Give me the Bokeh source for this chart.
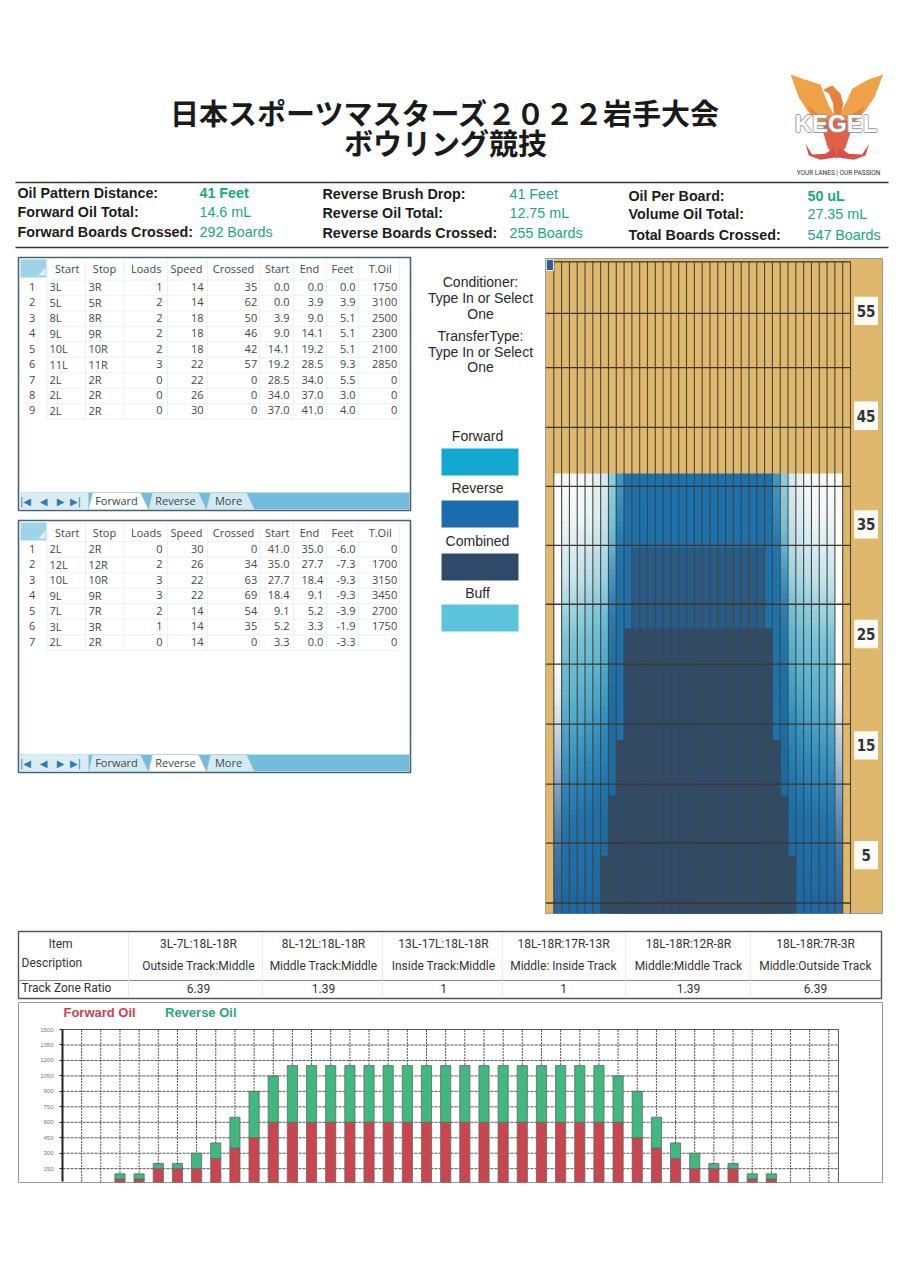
import numpy as np
from bokeh.plotting import figure
from bokeh.layouts import column, row
from bokeh.models import Range1d, FixedTicker, ColumnDataSource
from bokeh.core.properties import value
from bokeh.embed import file_html
from bokeh.resources import INLINE

# ---------- data ----------
title_lines = ["日本スポーツマスターズ２０２２岩手大会", "ボウリング競技"]

info_labels = [["Oil Pattern Distance:", "Forward Oil Total:", "Forward Boards Crossed:"],
               ["Reverse Brush Drop:", "Reverse Oil Total:", "Reverse Boards Crossed:"],
               ["Oil Per Board:", "Volume Oil Total:", "Total Boards Crossed:"]]
info_values = [["41 Feet", "14.6 mL", "292 Boards"],
               ["41 Feet", "12.75 mL", "255 Boards"],
               ["50 uL", "27.35 mL", "547 Boards"]]

table_header = ["Start", "Stop", "Loads", "Speed", "Crossed", "Start", "End", "Feet", "T.Oil"]
fw_start = ["3L", "5L", "8L", "9L", "10L", "11L", "2L", "2L", "2L"]
fw_stop = ["3R", "5R", "8R", "9R", "10R", "11R", "2R", "2R", "2R"]
fw_loads = ["1", "2", "2", "2", "2", "3", "0", "0", "0"]
fw_speed = ["14", "14", "18", "18", "18", "22", "22", "26", "30"]
fw_crossed = ["35", "62", "50", "46", "42", "57", "0", "0", "0"]
fw_from = ["0.0", "0.0", "3.9", "9.0", "14.1", "19.2", "28.5", "34.0", "37.0"]
fw_end = ["0.0", "3.9", "9.0", "14.1", "19.2", "28.5", "34.0", "37.0", "41.0"]
fw_feet = ["0.0", "3.9", "5.1", "5.1", "5.1", "9.3", "5.5", "3.0", "4.0"]
fw_oil = ["1750", "3100", "2500", "2300", "2100", "2850", "0", "0", "0"]

rv_start = ["2L", "12L", "10L", "9L", "7L", "3L", "2L"]
rv_stop = ["2R", "12R", "10R", "9R", "7R", "3R", "2R"]
rv_loads = ["0", "2", "3", "3", "2", "1", "0"]
rv_speed = ["30", "26", "22", "22", "14", "14", "14"]
rv_crossed = ["0", "34", "63", "69", "54", "35", "0"]
rv_from = ["41.0", "35.0", "27.7", "18.4", "9.1", "5.2", "3.3"]
rv_end = ["35.0", "27.7", "18.4", "9.1", "5.2", "3.3", "0.0"]
rv_feet = ["-6.0", "-7.3", "-9.3", "-9.3", "-3.9", "-1.9", "-3.3"]
rv_oil = ["0", "1700", "3150", "3450", "2700", "1750", "0"]

setup_text = ["Conditioner:", "Type In or Select", "One", "TransferType:", "Type In or Select", "One"]
legend_names = ["Forward", "Reverse", "Combined", "Buff"]
legend_colors = ["#12a8cf", "#1b6cab", "#2f4a6b", "#5cc3dc"]

ratio_items = ["3L-7L:18L-18R", "8L-12L:18L-18R", "13L-17L:18L-18R", "18L-18R:17R-13R", "18L-18R:12R-8R", "18L-18R:7R-3R"]
ratio_desc = ["Outside Track:Middle", "Middle Track:Middle", "Inside Track:Middle", "Middle: Inside Track", "Middle:Middle Track", "Middle:Outside Track"]
ratio_vals = ["6.39", "1.39", "1", "1", "1.39", "6.39"]

boards = list(range(3, 38))
forward_oil = [50, 50, 150, 150, 150, 250, 350, 450] + [600] * 19 + [450, 350, 250, 150, 150, 150, 50, 50]
reverse_oil = [50, 50, 50, 50, 150, 150, 300, 450, 450] + [550] * 17 + [450, 450, 300, 150, 150, 50, 50, 50, 50]
chart_ticks = [150, 300, 450, 600, 750, 900, 1050, 1200, 1350, 1500]
chart_grid_x = list(range(1, 41))

# lane: sampled height of each colour row in feet, and colour of outer columns 1..9 there
band_ft = [39.0, 36.2, 33.5, 30.7, 28.0, 25.2, 22.5, 19.7, 17.0, 14.3, 11.5, 8.8, 6.0, 3.3, 0.9]
band_colors = [
    ["#ffffff", "#f8fbfc", "#f5f9fb", "#f5f9fb", "#f0f7f9", "#e2f0f4", "#d5eaf0", "#8ccbdc", "#3d97c6"],
    ["#ffffff", "#eef6f8", "#eef6f8", "#eef6f8", "#e6f2f6", "#daecf2", "#c8e4ec", "#7cc2d8", "#2d87be"],
    ["#ffffff", "#dbeef4", "#dbeef4", "#d5ebf2", "#cfe8f0", "#c2e2ec", "#b2dbe8", "#5fb2d0", "#1f78b3"],
    ["#ffffff", "#c6e5ee", "#c6e5ee", "#bfe1ec", "#b5ddea", "#a8d7e6", "#9ad1e2", "#3f96c4", "#1b72ae"],
    ["#ffffff", "#a2d6e4", "#a2d6e4", "#98d2e2", "#8ecde0", "#84c8dd", "#74c0d9", "#2a80b8", "#1b72ae"],
    ["#ffffff", "#7cc5da", "#7cc5da", "#78c3da", "#72c0d8", "#6bbcd6", "#5cb3d2", "#2076b0", "#1b72ae"],
    ["#fafcfd", "#6abcd4", "#6abcd4", "#66bad4", "#62b8d4", "#5cb3d2", "#4aa8cc", "#1c70ac", "#1b72ae"],
    ["#e8eef4", "#5fb5d2", "#5cb3d2", "#58b0d0", "#52accf", "#4aa6cb", "#3a9cc6", "#1b6fab", "#1b72ae"],
    ["#c8d8e6", "#4ca6cd", "#4aa5cd", "#47a2cb", "#3e9cc8", "#3595c4", "#2a8cc0", "#1c6ca6", "#1b72ae"],
    ["#a8c0d8", "#3b97c6", "#3894c4", "#3490c2", "#2e8bbf", "#2986bc", "#2180b8", "#1e6aa3", "#1b72ae"],
    ["#7fa4c6", "#2c86bc", "#2a84bb", "#2681b9", "#247eb8", "#207ab5", "#1c76b2", "#1c6aa4", "#1b72ae"],
    ["#5b8cb8", "#2278b2", "#2076b1", "#1e74b0", "#1d72ae", "#1c70ac", "#1b6eaa", "#1b6ca8", "#1b72ae"],
    ["#4078ac", "#1e70ac", "#1e70ac", "#1d70ac", "#1d6fab", "#1c6eaa", "#1b6ca8", "#1b6ca8", "#1b72ae"],
    ["#2f6ca4", "#1e6dab", "#1e6dab", "#1e6dab", "#1d6caa", "#1c6ba8", "#1b6ca8", "#1b6ca8", "#1b72ae"],
    ["#2a66a0", "#1d68a6", "#1d68a6", "#1d68a6", "#1d68a6", "#1c68a6", "#1b6ca8", "#1b6ca8", "#1b72ae"],
]
oil_top_ft = 40.3
inner_color = "#1b72ae"
combined_cols = [11, 7, 8, 9, 10]
combined_tops = [33.5, 5.3, 10.8, 15.9, 26.1]
combined_fill = ["#275b88", "#2f4b6a", "#2f4b6a", "#2f4b6a", "#2f4b6a"]
lane_rule_ft = [0.96, 6.45, 11.85, 17.35, 22.84, 28.33, 33.73, 39.13, 44.53, 50.0, 54.97, 59.7]
lane_labels = ["5", "15", "25", "35", "45", "55"]
lane_label_ft = [5.35, 15.4, 25.6, 35.65, 45.6, 55.2]

# ---------- helpers ----------
def canvas(w, h, x0, x1, y0, y1):
    p = figure(width=w, height=h, x_range=Range1d(x0, x1), y_range=Range1d(y1, y0),
               output_backend="svg", toolbar_location=None, min_border=0, outline_line_color=None,
               frame_align=False)
    p.axis.visible = False
    p.grid.visible = False
    return p

def txt(p, x, y, s, size, color="#222222", font="Liberation Sans", style="normal", align="left"):
    p.text([x], [y - 1], text=[s], text_font=value(font), text_font_size=f"{size}px", text_color=color,
           text_font_style=style, text_align=align, text_baseline="middle")

def box(p, l, t, r, b, fill=None, line=None, lw=1):
    p.quad(left=[l], right=[r], top=[t], bottom=[b], fill_color=fill, line_color=line, line_width=lw)

def hline(p, x0, x1, y, color, lw=1):
    p.line([x0, x1], [y, y], line_color=color, line_width=lw)

def vline(p, x, y0, y1, color, lw=1):
    p.line([x, x], [y0, y1], line_color=color, line_width=lw)

# ---------- header ----------
head = canvas(892, 255, 0, 892, 0, 255)
txt(head, 445, 112.5, title_lines[0], 29, "#1a1a1a", "Noto Sans CJK JP", "bold", "center")
txt(head, 445, 142, title_lines[1], 29, "#1a1a1a", "Noto Sans CJK JP", "bold", "center")
hline(head, 15, 888, 182, "#333333", 1.5)
hline(head, 15, 888, 247, "#333333", 1.5)
info_x = [(17, 199), (322, 509), (628, 807)]
info_y = [[193, 212, 232], [194, 213, 233], [196, 214, 235]]
for c in range(3):
    for r in range(3):
        txt(head, info_x[c][0], info_y[c][r], info_labels[c][r], 14.3, "#1c1c1c", style="bold")
        bold = (r == 0 and c != 1)
        txt(head, info_x[c][1], info_y[c][r], info_values[c][r], 14.3, "#14a888", style="bold" if bold else "normal")

# logo (page coordinates)
def lz(pts):
    return [770 + a / 3 for a, b in pts], [60 + b / 3 for a, b in pts]
for pts, col in [
    ([(60, 42), (105, 58), (150, 72), (165, 112), (178, 140), (195, 170), (195, 225), (150, 195), (110, 150), (85, 110)], "#f0a248"),
    ([(338, 42), (292, 58), (245, 85), (232, 115), (220, 140), (200, 170), (200, 225), (245, 195), (285, 150), (312, 110)], "#f0a248"),
    ([(110, 135), (150, 165), (195, 165), (240, 165), (285, 135), (270, 165), (240, 195), (200, 225), (155, 195), (125, 165)], "#ea8440"),
    ([(158, 88), (185, 75), (210, 100), (218, 130), (210, 170), (190, 170), (188, 130), (176, 100)], "#e8803e"),
    ([(165, 180), (232, 180), (240, 215), (225, 262), (198, 295), (172, 262), (158, 215)], "#e0604a"),
    ([(105, 250), (125, 282), (165, 280), (190, 262), (198, 290), (150, 298), (115, 285)], "#d85048"),
    ([(296, 250), (275, 282), (235, 280), (208, 262), (198, 290), (250, 298), (285, 285)], "#d85048"),
]:
    xs, ys = lz(pts)
    head.patch(xs, ys, fill_color=col, line_color=None)
for dx, dy in [(-0.8, 0), (0.8, 0), (0, -0.8), (0, 0.8)]:
    txt(head, 835.5 + dx, 124 + dy, "KEGEL", 24, "#9a9a9a", style="bold", align="center")
txt(head, 835.5, 124, "KEGEL", 24, "#ffffff", style="bold", align="center")
txt(head, 838, 173, "YOUR LANES | OUR PASSION", 6.5, "#333333", "Roboto", align="center")

# ---------- middle (tables, setup text, legend) ----------
mid = canvas(544, 663, 0, 544, 255, 918)
col_edges = [46.7, 85, 123, 167, 207, 259, 293, 326, 358, 399]
head_x = [66.7, 104, 145.7, 186, 233, 276.7, 309, 342, 379.7]
body_x = [49, 88, 162, 203, 256.7, 289, 322.7, 355, 396.7]

def table(p, top, bottom, first_row, step, hdr_y, cols, active):
    box(p, 18, top, 410, bottom, "#ffffff", "#4a6470", 1.6)
    box(p, 20, top + 2, 46, top + 20, "#9fd3e8", None)
    p.patch([38, 45, 45], [top + 18, top + 18, top + 10], fill_color="#e4f2f8", line_color=None)
    n = len(cols[0])
    for i in range(n + 1):
        hline(p, 46, 399, first_row + (i - 0.5) * step, "#e9eff1", 0.8)
    for e in col_edges:
        vline(p, e, top + 2, first_row + (n - 0.5) * step, "#e9eff1", 0.8)
    for j, h in enumerate(table_header):
        txt(p, head_x[j], hdr_y, h, 11, "#3d4a4a", "Open Sans", align="center")
    for i in range(n):
        ry = first_row + i * step
        txt(p, 31.7, ry, str(i + 1), 11, "#3d4a4a", "Open Sans", align="center")
        for j, c in enumerate(cols):
            txt(p, body_x[j], ry, c[i], 11, "#3d4a4a", "Open Sans", align="left" if j < 2 else "right")
    # tab strip
    ty0, ty1 = bottom - 18, bottom - 1
    box(p, 19, ty0, 409, ty1, "#74bcdb", None)
    box(p, 19, ty0, 88, ty1, "#dcecf4", None)
    for x, s in [(25, "|◀"), (43, "◀"), (60, "▶"), (75, "▶|")]:
        txt(p, x, (ty0 + ty1) / 2 + 1, s, 10, "#2a7fb0", "DejaVu Sans", align="center")
    tabs = [("Forward", 88, 148), ("Reverse", 148, 206), ("More", 206, 254)]
    for name, a, b in tabs:
        fill = "#ffffff" if name == active else "#d4e9f1"
        p.patch([a, a + 4, b - 8, b], [ty1, ty0, ty0, ty1], fill_color=fill, line_color="#9cc8dc", line_width=0.6)
        txt(p, (a + b) / 2 - 2, (ty0 + ty1) / 2 + 0.5, name, 11, "#3d4a4a", "Open Sans", align="center")

table(mid, 257, 510, 287.3, 15.45, 269.3,
      [fw_start, fw_stop, fw_loads, fw_speed, fw_crossed, fw_from, fw_end, fw_feet, fw_oil], "Forward")
table(mid, 520, 772, 549, 15.5, 533,
      [rv_start, rv_stop, rv_loads, rv_speed, rv_crossed, rv_from, rv_end, rv_feet, rv_oil], "Reverse")

for s, y in zip(setup_text, [282, 298, 314, 336, 352, 367]):
    txt(mid, 480, y, s, 14, "#2a2a2a", align="center")
for name, colr, ly, ry0, ry1 in zip(legend_names, legend_colors, [436, 488, 541, 593], [448, 500, 553, 604], [475, 527, 580, 631]):
    txt(mid, 477, ly, name, 14, "#2a2a2a", align="center")
    box(mid, 441, ry0, 518, ry1, colr, None)

# ---------- lane ----------
lane = figure(width=348, height=663, x_range=Range1d(-1.064, 42.1), y_range=Range1d(0, 60),
              output_backend="svg", toolbar_location=None, min_border_left=1, min_border_right=10,
              min_border_top=3, min_border_bottom=5, background_fill_color="#dfb86e",
              outline_line_color="#9a9a9a", frame_align=False)
lane.axis.visible = False
lane.grid.visible = False

def hex2rgb(h):
    return np.array([int(h[i:i + 2], 16) for i in (1, 3, 5)], float)

# rows of the colour table blended into thin strips, as the scanned gradient is continuous
strip_edges = np.arange(oil_top_ft, -0.01, -0.55)
strip_edges[-1] = 0.0
asc_ft = np.array(band_ft[::-1])
L, R, T, B, C = [], [], [], [], []
for top, bot in zip(strip_edges[:-1], strip_edges[1:]):
    mid_ft = (top + bot) / 2
    colours = []
    for c in range(9):
        stops = np.array([hex2rgb(b[c]) for b in band_colors[::-1]])
        rgb = [np.interp(mid_ft, asc_ft, stops[:, k]) for k in range(3)]
        colours.append("#%02x%02x%02x" % tuple(int(round(v)) for v in rgb))
    for k in range(1, 38):
        idx = min(k, 38 - k)
        L.append(k - 1); R.append(k); T.append(top); B.append(bot)
        C.append(colours[idx - 1] if idx <= 9 else inner_color)
lane.quad(left=L, right=R, top=T, bottom=B, fill_color=C, line_color=C, line_width=1)
# quad drawn again at the top of the oil so the strips' line does not spill into the tan
lane.quad(left=[-0.5], right=[37.5], top=[oil_top_ft + 0.6], bottom=[oil_top_ft], fill_color="#dfb86e", line_color=None)
lane.quad(left=[-1.064, 37.0], right=[0.0, 38.0], top=[41.0, 41.0], bottom=[0.0, 0.0], fill_color="#dfb86e", line_color=None)
dl, dr, dt = [], [], []
for c, t in zip(combined_cols, combined_tops):
    dl.append(c - 1); dr.append(38 - c); dt.append(t)
lane.quad(left=dl, right=dr, top=dt, bottom=[0] * len(dt), fill_color=combined_fill, line_color=None)
lane.segment(x0=list(range(0, 39)), x1=list(range(0, 39)), y0=[0] * 39, y1=[59.7] * 39, line_color="#4a4538", line_width=1.1)
lane.segment(x0=[-1.0] * len(lane_rule_ft), x1=[38] * len(lane_rule_ft), y0=lane_rule_ft, y1=lane_rule_ft,
             line_color="#3e362c", line_width=1.3)
lane.rect(x=[40.0] * 6, y=lane_label_ft, width=3.05, height=2.6, fill_color="#fbfbf8", line_color=None)
lane.text(x=[40.0] * 6, y=lane_label_ft, text=lane_labels, text_font=value("DejaVu Sans Condensed"), text_font_size="15px",
          text_font_style="bold", text_color="#333333", text_align="center", text_baseline="middle")
lane.quad(left=[-0.95], right=[-0.05], top=[59.9], bottom=[58.9], fill_color="#2a5f8f", line_color="#dfe8ee", line_width=1)

# ---------- ratio table ----------
ratio = canvas(892, 83, 0, 892, 918, 1001)
box(ratio, 18, 931, 881, 998, "#ffffff", "#555555", 1.4)
hline(ratio, 18, 881, 980, "#8a8a8a", 1)
for x in [128, 262, 382, 502, 625, 750]:
    vline(ratio, x, 932, 997, "#e6e6e6", 0.8)
txt(ratio, 60, 944, "Item", 12, "#333333", "Roboto", align="center")
txt(ratio, 21, 963, "Description", 12, "#333333", "Roboto")
txt(ratio, 21, 988, "Track Zone Ratio", 12, "#333333", "Roboto")
for x, a, b, c in zip([198, 323, 443, 563, 688, 815], ratio_items, ratio_desc, ratio_vals):
    txt(ratio, x, 944, a, 12, "#333333", "Roboto", align="center")
    txt(ratio, x, 966, b, 12, "#333333", "Roboto", align="center")
    txt(ratio, x, 989, c, 12, "#333333", "Roboto", align="center")

# ---------- bar chart ----------
src = ColumnDataSource(dict(board=boards, forward=forward_oil, reverse=reverse_oil))
X_END, Y_TOP, Y_FLOOR = 40.5, 1500, 21
chart = figure(width=892, height=185, x_range=Range1d(-2.296, 42.8), y_range=Range1d(16, 1762),
               output_backend="svg", toolbar_location=None, min_border_left=18, min_border_right=10,
               min_border_top=1, min_border_bottom=4, outline_line_color="#999999", frame_align=False)
chart.xaxis.visible = False
chart.grid.visible = False
chart.segment(x0=chart_grid_x, x1=chart_grid_x, y0=[Y_FLOOR] * len(chart_grid_x), y1=[Y_TOP] * len(chart_grid_x),
              line_color="#555555", line_dash="2 1", line_width=1)
chart.segment(x0=[0] * len(chart_ticks), x1=[X_END] * len(chart_ticks), y0=chart_ticks, y1=chart_ticks,
              line_color="#555555", line_dash="3 1", line_width=1)
chart.segment(x0=[0, X_END], x1=[X_END, X_END], y0=[Y_TOP, Y_FLOOR], y1=[Y_TOP, Y_TOP], line_color="#555555", line_width=1)
chart.yaxis.fixed_location = 0
chart.yaxis.bounds = (Y_FLOOR, Y_TOP)
chart.yaxis.ticker = FixedTicker(ticks=chart_ticks)
chart.yaxis.axis_line_color = "#222222"
chart.yaxis.axis_line_width = 2
chart.yaxis.major_tick_line_color = "#222222"
chart.yaxis.major_tick_in = 0
chart.yaxis.major_tick_out = 3
chart.yaxis.minor_tick_line_color = None
chart.yaxis.major_label_text_font = "Liberation Sans"
chart.yaxis.major_label_text_font_size = "6px"
chart.yaxis.major_label_text_color = "#777777"
chart.yaxis.major_label_standoff = 6
chart.vbar_stack(["forward", "reverse"], x="board", width=0.53, color=["#c9464f", "#41b87f"],
                 line_color="#666666", line_width=0.8, source=src)
txt(chart, 0.05, 1665, "Forward Oil", 13, "#cc4450", style="bold")
txt(chart, 5.35, 1665, "Reverse Oil", 13, "#2aa57f", style="bold")

page = column(head, row(mid, lane, spacing=0), ratio, chart, spacing=0)
open("out.html", "w").write(file_html(page, INLINE))
